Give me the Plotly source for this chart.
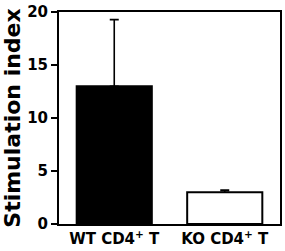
import plotly.graph_objects as go

categories = ["WT CD4<sup>+</sup> T", "KO CD4<sup>+</sup> T"]
values = [13.0, 3.0]
errors_up = [6.3, 0.2]
bar_fill = ["black", "white"]
y_ticks = [0, 5, 10, 15, 20]

fig = go.Figure()
fig.add_trace(go.Bar(
    x=categories, y=values,
    width=0.68,
    marker=dict(color=bar_fill, line=dict(color="black", width=2)),
    error_y=dict(type="data", symmetric=False, array=errors_up,
                 arrayminus=[0, 0], color="black", thickness=1.6, width=4.5),
))

font = "DejaVu Sans"
fig.update_layout(
    width=285, height=251,
    margin=dict(l=59, r=3, t=8, b=24),
    paper_bgcolor="white", plot_bgcolor="white",
    showlegend=False,
    font=dict(family=font, color="black"),
)
fig.update_xaxes(
    showline=True, linecolor="black", linewidth=2, mirror=True,
    ticks="", tickfont=dict(family=font, size=15, weight="bold"),
    showgrid=False,
)
fig.update_yaxes(
    range=[0, 20.02], tickvals=y_ticks, ticklabeloverflow="allow",
    showline=True, linecolor="black", linewidth=2, mirror=True,
    ticks="outside", ticklen=6, tickwidth=2, tickcolor="black",
    tickfont=dict(family=font, size=15, weight="bold"),
    showgrid=False, zeroline=False,
    title=dict(text="Stimulation index", font=dict(family=font, size=22, weight="bold"), standoff=5),
)
fig.write_html("out.html")
